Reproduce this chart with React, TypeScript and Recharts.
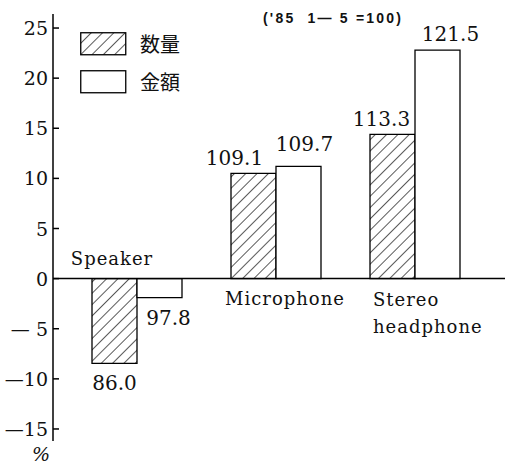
import React from 'react';
import { BarChart, Bar, XAxis, YAxis, ReferenceLine, LabelList, Legend } from 'recharts';

const categories = ['Speaker', 'Microphone', 'Stereo headphone'];
const quantityChange = [-8.45, 10.5, 14.4];
const amountChange = [-1.9, 11.2, 22.8];
const quantityIndex = ['86.0', '109.1', '113.3'];
const amountIndex = ['97.8', '109.7', '121.5'];
const yTicks = [-15, -10, -5, 0, 5, 10, 15, 20, 25];
const seriesNames = ['数量', '金額'];

const SERIF = '"DejaVu Serif", serif';
const INK = '#111';

const quantityLabelOffsets = [
  { dx: 0, dy: 20 },
  { dx: -19, dy: -15 },
  { dx: -11, dy: -15 },
];
const amountLabelOffsets = [
  { dx: 9, dy: 20 },
  { dx: 6, dy: -22 },
  { dx: 13, dy: -16 },
];

function rectOf(props: any) {
  const vb = props.viewBox && props.viewBox.width !== undefined ? props.viewBox : props;
  return { x: Number(vb.x), y: Number(vb.y), width: Number(vb.width), height: Number(vb.height) };
}

const makeValueLabel = (values: number[], texts: string[], offsets: { dx: number; dy: number }[]) => (props: any) => {
  const { index } = props;
  const { x, y, width, height } = rectOf(props);
  const v = values[index];
  const tip = v >= 0 ? Math.min(y, y + height) : Math.max(y, y + height);
  const o = offsets[index];
  return (
    <text
      x={x + width / 2 + o.dx}
      y={tip + o.dy}
      textAnchor="middle"
      dominantBaseline="central"
      fontFamily={SERIF}
      fontSize={20}
      fill={INK}
    >
      {texts[index]}
    </text>
  );
};

const CategoryLabel = (props: any) => {
  const { index } = props;
  const { x, y, width, height } = rectOf(props);
  const v = quantityChange[index];
  const zero = v >= 0 ? Math.max(y, y + height) : Math.min(y, y + height);
  const center = x + width;
  const common = { fontFamily: SERIF, fontSize: 18, fill: INK, letterSpacing: 1 } as any;
  if (index === 0) {
    return (
      <text x={center - 25} y={zero - 20} textAnchor="middle" dominantBaseline="central" {...common}>
        {categories[0]}
      </text>
    );
  }
  if (index === 1) {
    return (
      <text x={center + 9} y={zero + 20} textAnchor="middle" dominantBaseline="central" {...common}>
        {categories[1]}
      </text>
    );
  }
  const words = categories[index].split(' ');
  return (
    <text x={center - 42} y={zero + 20} textAnchor="start" dominantBaseline="central" {...common}>
      <tspan x={center - 42} dy={0}>{words[0]}</tspan>
      <tspan x={center - 42} dy={27}>{words[1]}</tspan>
    </text>
  );
};

const YTick = (props: any) => {
  const { x, y, payload } = props;
  const v = payload.value as number;
  const label = v < 0 ? (Math.abs(v) < 10 ? '— ' + Math.abs(v) : '—' + Math.abs(v)) : String(v);
  return (
    <g>
      <line x1={x} x2={x + 6} y1={y} y2={y} stroke="#000" strokeWidth={1.5} />
      <text x={x - 5} y={y} textAnchor="end" dominantBaseline="central" fontFamily={SERIF} fontSize={19} fill={INK}>
        {label}
      </text>
    </g>
  );
};

const LegendContent = () => (
  <div style={{ width: 140 }}>
    {seriesNames.map((name, i) => (
      <div key={name} style={{ display: 'flex', alignItems: 'center', height: 23, marginBottom: i === 0 ? 15 : 0 }}>
        <svg width={47} height={24} style={{ display: 'block' }}>
          <rect x={0.75} y={0.75} width={45} height={22} fill={i === 0 ? 'url(#hatch)' : '#fff'} stroke="#000" strokeWidth={1.3} />
        </svg>
        <span
          style={{
            marginLeft: 13,
            fontFamily: '"Noto Sans CJK JP", sans-serif',
            fontSize: 20,
            color: INK,
            lineHeight: '23px',
          }}
        >
          {name}
        </span>
      </div>
    ))}
  </div>
);

export default function App() {
  const data = categories.map((c, i) => ({
    category: c,
    quantity: quantityChange[i],
    amount: amountChange[i],
  }));
  return (
    <div style={{ position: 'absolute', left: 0, top: 0, width: 508, height: 468, background: '#fff' }}>
      <BarChart
        width={508}
        height={468}
        data={data}
        margin={{ top: 14, right: 3, bottom: 27, left: 0 }}
        barGap={0}
      >
        <defs>
          <pattern id="hatch" patternUnits="userSpaceOnUse" width={8} height={8} patternTransform="rotate(45)">
            <rect width={8} height={8} fill="#fff" />
            <line x1={0} y1={0} x2={0} y2={8} stroke="#000" strokeWidth={1.3} />
          </pattern>
        </defs>
        <XAxis dataKey="category" hide padding={{ left: 14, right: 21 }} />
        <YAxis
          domain={[-16.2, 26.4]}
          ticks={yTicks}
          width={53}
          allowDataOverflow
          interval={0}
          axisLine={{ stroke: '#000', strokeWidth: 1.5 }}
          tickLine={false}
          tickSize={0}
          tickMargin={0}
          tick={<YTick />}
        />
        <ReferenceLine y={0} stroke="#000" strokeWidth={1.5} />
        <Legend
          layout="vertical"
          align="center"
          verticalAlign="middle"
          content={<LegendContent />}
          wrapperStyle={{ left: 80, top: 32, width: 150 }}
        />
        <Bar dataKey="quantity" barSize={45} fill="url(#hatch)" stroke="#000" strokeWidth={1.3} isAnimationActive={false}>
          <LabelList dataKey="quantity" content={makeValueLabel(quantityChange, quantityIndex, quantityLabelOffsets)} />
          <LabelList dataKey="category" content={<CategoryLabel />} />
        </Bar>
        <Bar dataKey="amount" barSize={45} fill="#fff" stroke="#000" strokeWidth={1.3} isAnimationActive={false}>
          <LabelList dataKey="amount" content={makeValueLabel(amountChange, amountIndex, amountLabelOffsets)} />
        </Bar>
      </BarChart>
      <div
        style={{
          position: 'absolute',
          left: 263,
          top: 8,
          fontFamily: '"Liberation Sans", sans-serif',
          fontWeight: 'bold',
          fontSize: 14,
          letterSpacing: 2.2,
          whiteSpace: 'pre',
          color: INK,
          lineHeight: '20px',
        }}
      >
        {"('85  1— 5 =100)"}
      </div>
      <div
        style={{
          position: 'absolute',
          left: 32,
          top: 442,
          fontFamily: SERIF,
          fontStyle: 'italic',
          fontSize: 19,
          color: INK,
          lineHeight: '24px',
        }}
      >
        %
      </div>
    </div>
  );
}
